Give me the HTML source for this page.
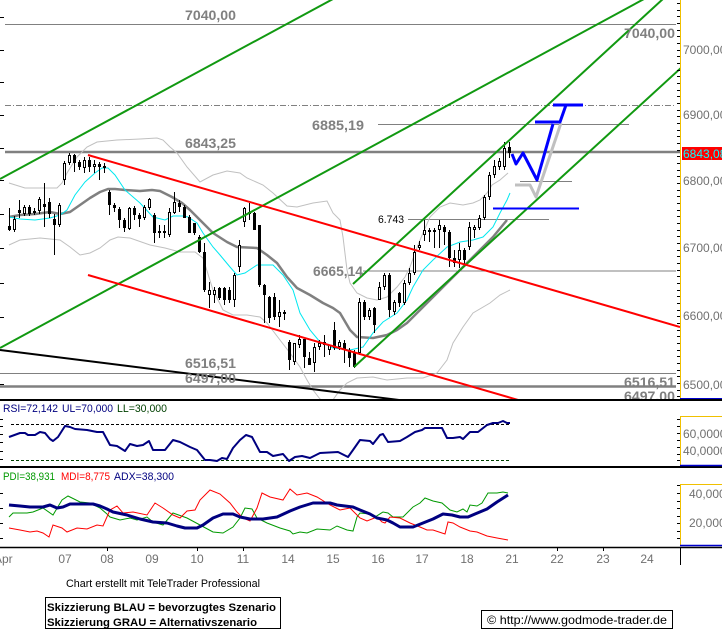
<!DOCTYPE html>
<html><head><meta charset="utf-8"><style>
html,body{margin:0;padding:0;background:#fff;}
svg{display:block;}
text{font-family:"Liberation Sans",Arial,sans-serif;}
</style></head><body>
<svg width="722" height="635" viewBox="0 0 722 635" xmlns="http://www.w3.org/2000/svg">
<rect width="722" height="635" fill="#fff"/>
<defs><clipPath id="mc"><rect x="0" y="0" width="680" height="399"/></clipPath></defs>

<g clip-path="url(#mc)">
<!-- horizontal levels -->
<g stroke="#808080" fill="none">
<path d="M5,24.5H676" stroke-width="1"/>
<path d="M5,105.5H674" stroke-width="1" stroke-dasharray="6,2,1,2"/>
<path d="M378,124.5H629" stroke-width="1"/>
<path d="M5,152H680" stroke-width="2.5"/>
<path d="M520,181.5H572" stroke-width="1"/>
<path d="M408,219.5H549" stroke-width="1"/>
<path d="M363,271H676" stroke-width="1"/>
<path d="M0,373.5H676" stroke-width="1"/>
<path d="M0,386.5H676" stroke-width="2.5"/>
</g>
<!-- left ticks -->
<path d="M0,17.5H4M0,50.5H4M0,82.5H4M0,115.5H4M0,148.5H4M0,180.5H4M0,214.5H4M0,248.5H4M0,283.5H4M0,317.5H4M0,350.5H4M0,384.5H4" stroke="#000" stroke-width="1"/>

<!-- Bollinger -->
<polyline fill="none" stroke="#c0c0c0" stroke-width="1" points="9,183 25,188 45,188 57,188 62,183 67,173 77,157 87,147 97,142 117,140 140,139 157,138 163,140 170,147 177,153 187,167 200,182 213,175 227,171 240,173 247,178 263,185 273,193 287,206 297,207 313,203 327,201 333,213 340,220 343,237 347,270 350,283 357,293 367,298 377,300 387,297 397,287 405,277 410,267 415,253 418,245 423,233 430,217 440,207 450,203 463,205 473,203 480,200 487,193 492,185 500,180 508,173"/>
<polyline fill="none" stroke="#c0c0c0" stroke-width="1" points="9,245 20,240 40,238 60,240 70,247 80,255 90,253 100,248 110,240 118,237 130,238 150,245 165,248 180,252 195,252 203,258 213,290 223,310 233,315 247,315 260,317 267,323 280,340 290,353 300,367 307,380 313,390 320,399 330,404 340,390 347,383 357,378 373,377 387,380 407,378 423,378 437,373 447,360 453,343 463,327 473,313 490,303 500,295 510,290"/>
<!-- MAs -->
<polyline fill="none" stroke="#808080" stroke-width="2.5" stroke-linejoin="round" points="9,217 20,215 35,214 50,212 60,214 70,212 80,205 90,198 100,192 108,189 115,189 125,190 140,191 152,190 160,191 172,197 182,203 190,210 200,220 213,233 227,242 237,247 257,248 267,255 277,263 287,277 297,288 310,295 323,303 333,308 340,313 350,330 357,337 373,338 387,335 397,330 407,323 420,310 433,297 450,280 463,267 477,253 493,237 507,220"/>
<polyline fill="none" stroke="#00e8f0" stroke-width="1" points="9,217 20,219 35,220 50,218 60,215 67,210 75,195 85,182 95,173 102,168 108,168 115,175 125,190 140,203 153,217 165,220 173,216 183,216 188,217 197,223 203,233 213,247 220,255 230,267 237,275 245,273 257,265 273,265 283,275 293,290 300,313 310,330 320,342 333,348 350,350 363,347 373,333 383,322 397,313 407,300 413,287 423,270 433,260 447,247 460,242 473,240 483,237 493,227 500,213 507,200 510,193"/>

<!-- candles -->
<path fill="none" stroke="#000" stroke-width="1" d="M9.5,208V231M14.5,216V232M19.5,200V218M24.5,205V216M29.5,205V216M34.5,208V215M39.5,197V214M44.5,183V227M49.5,198V218M54.5,214V255M59.5,203V227M64.5,161V185M69.5,153V165M74.5,154V172M79.5,160V170M84.5,157V173M89.5,157V172M94.5,160V173M99.5,162V180M104.5,163V173M109.5,190V215M114.5,203V212M119.5,207V228M124.5,218V232M129.5,207V230M134.5,206V220M139.5,213V227M144.5,205V220M149.5,198V210M154.5,213V243M159.5,225V238M164.5,225V238M169.5,208V237M174.5,192V214M179.5,200V212M184.5,205V216M189.5,215V233M194.5,223V235M199.5,235V253M204.5,243V292M209.5,282V308M214.5,287V303M219.5,287V300M224.5,287V305M229.5,287V303M234.5,273V307M239.5,240V272M244.5,207V227M249.5,203V220M254.5,212V230M259.5,225V287M264.5,284V323M269.5,296V323M274.5,293V320M279.5,300V327M284.5,310V320M289.5,340V370M294.5,343V365M299.5,335V348M304.5,339V368M309.5,352V365M314.5,343V372M319.5,340V350M324.5,335V357M329.5,345V355M334.5,322V350M339.5,340V350M344.5,340V363M349.5,348V367M354.5,350V368M359.5,298V355M364.5,300V320M369.5,308V320M374.5,307V333M379.5,282V300M384.5,273V290M389.5,273V317M394.5,300V315M399.5,292V307M404.5,280V305M409.5,268V285M414.5,245V275M419.5,241V250M424.5,220V241M429.5,228V242M434.5,228V248M439.5,220V248M444.5,225V245M449.5,230V267M454.5,250V267M459.5,243V268M464.5,248V265M469.5,222V250M474.5,225V238M479.5,215V230M484.5,195V220M489.5,172V200M494.5,160V178M499.5,158V170M504.5,142V170M509.5,142V158"/>
<path fill="#000" d="M8,226h3V230h-3zM18,210h3V213h-3zM28,207h3V214h-3zM33,211h3V213h-3zM43,204h3V207h-3zM48,202h3V214h-3zM53,219h3V225h-3zM73,155h3V163h-3zM78,162h3V167h-3zM88,160h3V167h-3zM98,164h3V167h-3zM103,166h3V168h-3zM108,192h3V205h-3zM113,205h3V208h-3zM118,209h3V220h-3zM123,220h3V228h-3zM133,208h3V215h-3zM138,215h3V219h-3zM153,215h3V233h-3zM178,203h3V207h-3zM183,207h3V218h-3zM188,217h3V233h-3zM193,223h3V233h-3zM198,237h3V252h-3zM203,252h3V290h-3zM218,288h3V298h-3zM223,288h3V300h-3zM228,290h3V300h-3zM248,212h3V214h-3zM253,213h3V230h-3zM258,225h3V285h-3zM263,285h3V295h-3zM268,297h3V318h-3zM273,297h3V317h-3zM283,312h3V314h-3zM288,342h3V360h-3zM303,339h3V357h-3zM308,358h3V365h-3zM333,330h3V348h-3zM343,343h3V350h-3zM348,350h3V358h-3zM353,352h3V367h-3zM363,302h3V317h-3zM373,308h3V325h-3zM388,275h3V310h-3zM398,293h3V303h-3zM428,230h3V232h-3zM433,230h3V232h-3zM443,227h3V232h-3zM448,232h3V258h-3zM453,258h3V263h-3zM463,250h3V260h-3zM508,147h3V153h-3z"/>
<path fill="#fff" stroke="#000" stroke-width="1" d="M13.5,219.5h2V229.5h-2zM23.5,207.5h2V213.5h-2zM38.5,199.5h2V210.5h-2zM58.5,205.5h2V224.5h-2zM63.5,163.5h2V179.5h-2zM68.5,155.5h2V162.5h-2zM83.5,160.5h2V167.5h-2zM93.5,164.5h2V166.5h-2zM128.5,208.5h2V228.5h-2zM143.5,207.5h2V217.5h-2zM148.5,199.5h2V207.5h-2zM158.5,231.5h2V232.5h-2zM163.5,231.5h2V232.5h-2zM168.5,212.5h2V234.5h-2zM173.5,202.5h2V212.5h-2zM208.5,290.5h2V294.5h-2zM213.5,290.5h2V294.5h-2zM233.5,275.5h2V299.5h-2zM238.5,245.5h2V266.5h-2zM243.5,208.5h2V221.5h-2zM278.5,312.5h2V316.5h-2zM293.5,343.5h2V361.5h-2zM298.5,339.5h2V344.5h-2zM313.5,347.5h2V362.5h-2zM318.5,343.5h2V346.5h-2zM323.5,342.5h2V344.5h-2zM328.5,345.5h2V349.5h-2zM338.5,342.5h2V346.5h-2zM358.5,302.5h2V352.5h-2zM368.5,310.5h2V316.5h-2zM378.5,287.5h2V299.5h-2zM383.5,275.5h2V286.5h-2zM393.5,302.5h2V311.5h-2zM403.5,283.5h2V302.5h-2zM408.5,273.5h2V282.5h-2zM413.5,252.5h2V272.5h-2zM418.5,245.5h2V247.5h-2zM423.5,230.5h2V234.5h-2zM438.5,225.5h2V229.5h-2zM458.5,250.5h2V259.5h-2zM468.5,227.5h2V246.5h-2zM473.5,227.5h2V229.5h-2zM478.5,218.5h2V227.5h-2zM483.5,197.5h2V217.5h-2zM488.5,175.5h2V196.5h-2zM493.5,166.5h2V174.5h-2zM498.5,161.5h2V166.5h-2zM503.5,148.5h2V166.5h-2z"/>

<!-- trend lines -->
<g fill="none" stroke-width="2">
<path d="M0,179L333,-1" stroke="#119911"/>
<path d="M0,348L644,-1" stroke="#119911"/>
<path d="M353,284L664,-2" stroke="#119911"/>
<path d="M354,367L682,67" stroke="#119911"/>
<path d="M88,155L680,327" stroke="#ff0000"/>
<path d="M88,275L525,402" stroke="#ff0000"/>
<path d="M0,350L415,402" stroke="#000"/>
</g>

<!-- level labels -->
<g font-size="14" font-weight="bold" fill="#808080">
<text x="185" y="20" textLength="51" lengthAdjust="spacingAndGlyphs">7040,00</text>
<text x="624" y="38" textLength="51" lengthAdjust="spacingAndGlyphs">7040,00</text>
<text x="312" y="130" textLength="52" lengthAdjust="spacingAndGlyphs">6885,19</text>
<text x="185" y="148" textLength="51" lengthAdjust="spacingAndGlyphs">6843,25</text>
<text x="313" y="276" textLength="50" lengthAdjust="spacingAndGlyphs">6665,14</text>
<text x="185" y="368" textLength="51" lengthAdjust="spacingAndGlyphs">6516,51</text>
<text x="624" y="387" textLength="51" lengthAdjust="spacingAndGlyphs">6516,51</text>
<text x="185" y="383" textLength="51" lengthAdjust="spacingAndGlyphs">6497,00</text>
<text x="624" y="401" textLength="51" lengthAdjust="spacingAndGlyphs">6497,00</text>
</g>
<text x="378" y="223" font-size="11" fill="#000" textLength="26" lengthAdjust="spacingAndGlyphs">6.743</text>

<!-- scenarios -->
<path d="M515,185L530,185L536,197L561,123" fill="none" stroke="#c0c0c0" stroke-width="3" stroke-linejoin="round"/>
<g fill="none" stroke="#0000ff" stroke-width="3" stroke-linejoin="round">
<path d="M512,154L516,164L523,153L537,180L553,124"/>
<path d="M535,122L560,122L566,105"/>
<path d="M553,105L583,105"/>
</g>
<path d="M493,208.5L579,208.5" stroke="#0000ff" stroke-width="2"/>
</g>

<!-- main right axis -->
<path d="M680.5,0V398" stroke="#f0c000" stroke-width="1"/>
<path d="M677,3.5H680M677,10.5H680M677,16.5H680M677,23.5H680M677,30.5H680M677,36.5H680M677,43.5H680M677,50.5H680M677,56.5H680M677,63.5H680M677,70.5H680M677,76.5H680M677,83.5H680M677,90.5H680M677,96.5H680M677,103.5H680M677,110.5H680M677,116.5H680M677,123.5H680M677,130.5H680M677,136.5H680M677,143.5H680M677,150.5H680M677,156.5H680M677,163.5H680M677,170.5H680M677,176.5H680M677,183.5H680M677,190.5H680M677,196.5H680M677,203.5H680M677,210.5H680M677,216.5H680M677,223.5H680M677,230.5H680M677,236.5H680M677,243.5H680M677,250.5H680M677,256.5H680M677,263.5H680M677,270.5H680M677,276.5H680M677,283.5H680M677,290.5H680M677,296.5H680M677,303.5H680M677,310.5H680M677,316.5H680M677,323.5H680M677,330.5H680M677,336.5H680M677,343.5H680M677,350.5H680M677,356.5H680M677,363.5H680M677,370.5H680M677,376.5H680M677,383.5H680M677,390.5H680M677,396.5H680" stroke="#000" stroke-width="1"/>
<g font-size="12" fill="#707070">
<text x="683" y="54">7000,00</text>
<text x="683" y="119">6900,00</text>
<text x="683" y="185">6800,00</text>
<text x="683" y="252">6700,00</text>
<text x="683" y="320">6600,00</text>
<text x="683" y="389">6500,00</text>
</g>
<rect x="682" y="147" width="40" height="13" fill="#ff0000"/>
<text x="683" y="158" font-size="12" fill="#00ffff">6843,08</text>
<path d="M680,398.5H722" stroke="#0000cc" stroke-width="1"/>

<!-- panel separators -->
<path d="M0,400H722" stroke="#000" stroke-width="2"/>
<path d="M0,467H722" stroke="#000" stroke-width="2"/>

<!-- RSI panel -->
<text x="3" y="412" font-size="11" fill="#000080" textLength="55" lengthAdjust="spacingAndGlyphs">RSI=72,142</text>
<text x="62" y="412" font-size="11" fill="#000080" textLength="51" lengthAdjust="spacingAndGlyphs">UL=70,000</text>
<text x="117" y="412" font-size="11" fill="#004000" textLength="50" lengthAdjust="spacingAndGlyphs">LL=30,000</text>
<path d="M0,419.5H3M0,426.5H3M0,434.5H3M0,442.5H3M0,451.5H3M0,459.5H3" stroke="#000"/>
<path d="M11,424.5H510" stroke="#000" stroke-dasharray="3,2"/>
<path d="M11,460.5H510" stroke="#004000" stroke-dasharray="3,2"/>
<polyline fill="none" stroke="#000080" stroke-width="2" stroke-linejoin="round" points="9,437 20,433 25,433 28,435 35,435 40,432 45,433 50,439 53,441 58,437 65,426 70,427 75,429 87,430 97,432 103,432 110,445 117,446 125,451 130,444 137,446 143,445 149,441 153,450 165,450 173,440 180,442 190,447 197,450 205,460 210,460 217,461 222,458 227,459 233,448 240,440 246,435 252,437 260,452 267,452 273,456 283,454 289,461 295,457 302,456 310,458 320,453 338,452 348,457 353,450 360,440 370,441 373,444 380,435 383,434 388,442 400,441 407,437 415,432 422,430 425,428 442,428 447,438 453,438 460,437 463,439 470,432 478,432 487,425 493,423 498,423 503,421 507,423 510,423"/>
<path d="M680.5,466V416.5H722" fill="none" stroke="#f0c000"/>
<path d="M677,419.5H680M677,426.5H680M677,433.5H680M677,440.5H680M677,447.5H680M677,454.5H680M677,460.5H680" stroke="#000"/>
<text x="683" y="438" font-size="12" fill="#707070">60,0000</text>
<text x="683" y="455" font-size="12" fill="#707070">40,0000</text>
<path d="M680,465.5H722" stroke="#0000cc" stroke-width="1.5"/>

<!-- ADX panel -->
<text x="3" y="480" font-size="11" fill="#009900" textLength="52" lengthAdjust="spacingAndGlyphs">PDI=38,931</text>
<text x="61" y="480" font-size="11" fill="#ff0000" textLength="49" lengthAdjust="spacingAndGlyphs">MDI=8,775</text>
<text x="114" y="480" font-size="11" fill="#000080" textLength="60" lengthAdjust="spacingAndGlyphs">ADX=38,300</text>
<path d="M0,493.5H3M0,508.5H3M0,523.5H3M0,538.5H3" stroke="#000"/>
<polyline fill="none" stroke="#009900" stroke-width="1" points="9,517 13,513 27,513 33,512 43,508 53,515 62,500 68,496 80,502 90,503 100,508 107,514 110,517 120,520 130,518 137,520 147,517 153,522 163,525 173,513 187,518 200,525 213,532 223,533 233,527 240,518 245,508 252,509 257,518 267,523 280,528 290,531 293,534 300,532 307,533 317,529 330,530 337,526 347,530 353,531 357,517 360,513 370,514 375,517 383,512 388,513 393,517 403,517 413,507 420,503 425,498 433,501 442,503 450,510 457,512 463,509 467,512 470,505 477,506 482,503 488,493 497,493 503,492 508,493"/>
<polyline fill="none" stroke="#ff0000" stroke-width="1" points="9,528 20,530 30,532 37,531 43,533 49,537 53,525 62,528 67,532 77,528 87,529 97,525 103,526 110,510 117,506 123,513 133,512 147,515 155,503 163,508 173,515 180,518 187,511 195,510 200,500 210,490 220,494 230,503 237,512 243,518 250,521 257,508 262,493 270,497 283,500 290,489 297,495 307,493 317,497 330,505 340,510 350,508 357,515 360,518 367,521 377,517 382,522 385,523 390,517 400,518 410,523 420,527 427,530 433,530 442,533 445,534 448,522 453,523 460,527 470,531 477,532 487,536 497,538 508,540"/>
<polyline fill="none" stroke="#000080" stroke-width="3" stroke-linejoin="round" points="9,505 20,506 30,507 43,507 50,505 57,508 63,507 70,504 83,504 93,504 100,506 107,509 113,512 127,515 140,519 153,522 167,523 177,526 185,528 197,528 203,525 213,518 223,514 233,514 240,517 250,519 263,519 277,517 290,511 300,507 313,503 330,503 337,505 353,507 360,510 370,514 377,518 387,520 393,523 400,527 413,527 423,523 433,519 443,514 452,515 460,517 468,517 475,514 487,509 497,502 508,495"/>
<path d="M680.5,546V484.5H722" fill="none" stroke="#f0c000"/>
<path d="M677,485.5H680M677,493.5H680M677,501.5H680M677,508.5H680M677,516.5H680M677,523.5H680M677,531.5H680M677,538.5H680" stroke="#000"/>
<text x="689" y="498" font-size="12" fill="#707070">40,000</text>
<text x="689" y="527" font-size="12" fill="#707070">20,000</text>
<path d="M680,545.5H722" stroke="#0000cc" stroke-width="1.5"/>

<!-- x axis -->
<path d="M0,547.5H722" stroke="#000" stroke-width="1.5"/>
<path d="M680.5,547V565" stroke="#000" stroke-width="1"/>
<path d="M107.5,548V551M197.5,548V551M243.5,548V551M557.5,548V551M603.5,548V551" stroke="#000"/>
<g font-size="12" fill="#707070" text-anchor="middle">
<text x="65" y="563">07</text>
<text x="107" y="563">08</text>
<text x="152" y="563">09</text>
<text x="197" y="563">10</text>
<text x="243" y="563">11</text>
<text x="288" y="563">14</text>
<text x="333" y="563">15</text>
<text x="378" y="563">16</text>
<text x="422" y="563">17</text>
<text x="467" y="563">18</text>
<text x="512" y="563">21</text>
<text x="557" y="563">22</text>
<text x="603" y="563">23</text>
<text x="647" y="563">24</text>
</g>
<text x="-6" y="563" font-size="12" fill="#707070">Apr</text>

<!-- footer -->
<text x="66" y="587" font-size="11" fill="#000" textLength="194" lengthAdjust="spacingAndGlyphs">Chart erstellt mit TeleTrader Professional</text>
<rect x="45.5" y="597.5" width="235" height="31" fill="#fff" stroke="#000" stroke-width="1"/>
<text x="47" y="611" font-size="11" font-weight="bold" fill="#000" textLength="229" lengthAdjust="spacingAndGlyphs">Skizzierung BLAU = bevorzugtes Szenario</text>
<text x="47" y="626" font-size="11" font-weight="bold" fill="#000" textLength="210" lengthAdjust="spacingAndGlyphs">Skizzierung GRAU = Alternativszenario</text>
<rect x="481.5" y="610.5" width="191" height="18" fill="#fff" stroke="#000" stroke-width="1"/>
<text x="487" y="624" font-size="12" fill="#000" textLength="180" lengthAdjust="spacingAndGlyphs">© http://www.godmode-trader.de</text>
</svg>
</body></html>
